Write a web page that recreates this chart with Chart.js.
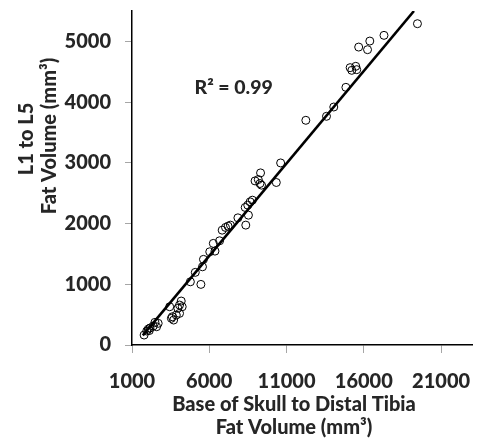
<!DOCTYPE html>
<html><head><meta charset="utf-8">
<script src="https://cdn.jsdelivr.net/npm/chart.js@4/dist/chart.umd.min.js"></script>
<style>html,body{margin:0;padding:0;background:#fff;}</style>
</head><body>
<canvas id="c" width="477" height="442"></canvas>
<script>
// ---- data ----
const xValues = [1783,1955,2057,2121,2166,2376,2484,2592,2694,3439,3548,3611,3694,3866,4076,3968,4076,4185,4248,4777,5458,5095,5560,5624,6031,6261,6369,6668,6834,7050,7216,7369,7853,8363,8534,8324,8490,8643,8789,8961,9171,9280,9382,9318,10337,10617,
  12248,13585,14056,14840,15114,15222,15477,15541,15668,16241,16387,17305,19470];
const yValues = [164,230,263,238,280,312,373,301,357,630,439,465,411,493,521,604,658,724,630,1041,998,1196,1288,1410,1535,1673,1546,1716,1891,1936,1957,1974,2094,1974,2138,2265,2303,2357,2385,2702,2725,2659,2632,2834,2676,2998,
  3700,3766,3919,4243,4567,4523,4589,4534,4906,4863,5005,5099,5291];
const trendX = [1700, 19245];
const trendY = [158, 5500];
const xTicks = [1000, 6000, 11000, 16000, 21000];
const yTicks = [0, 1000, 2000, 3000, 4000, 5000];
const xRange = [1000, 23000];
const yRange = [0, 5500];
const xTitle = ['Base of Skull to Distal Tibia', 'Fat Volume (mm³)'];
const yTitle = ['L1 to L5', 'Fat Volume (mm³)'];
const r2Label = 'R² = 0.99';
const r2Pos = [7580, 4230];

const FONT = 'Lato';
const WEIGHT = '900';
const TXT = '#262626';

const scatterData = xValues.map((x, i) => ({x, y: yValues[i]}));
const trendData = trendX.map((x, i) => ({x, y: trendY[i]}));

const textPlugin = {
  id: 'texts',
  afterDraw(chart) {
    const ctx = chart.ctx;
    const xs = chart.scales.x, ys = chart.scales.y;
    ctx.save();
    ctx.fillStyle = TXT;
    ctx.textAlign = 'center';
    ctx.textBaseline = 'middle';
    ctx.font = WEIGHT + ' 19.5px ' + FONT;
    ctx.fillText(r2Label, xs.getPixelForValue(r2Pos[0]), ys.getPixelForValue(r2Pos[1]));
    ctx.font = WEIGHT + ' 20px ' + FONT;
    ctx.fillText(xTitle[0], 294, 405);
    ctx.fillText(xTitle[1], 294, 428);
    ctx.save();
    ctx.translate(27, 139);
    ctx.rotate(-Math.PI / 2);
    ctx.fillText(yTitle[0], 0, 0);
    ctx.restore();
    ctx.save();
    ctx.translate(50, 136);
    ctx.rotate(-Math.PI / 2);
    ctx.fillText(yTitle[1], 0, 0);
    ctx.restore();
    ctx.restore();
  }
};

function zeroPad(s) { s.paddingTop = 0; s.paddingBottom = 0; s.paddingLeft = 0; s.paddingRight = 0; }

function build() {
  new Chart(document.getElementById('c'), {
    type: 'scatter',
    data: {
      datasets: [
        { type: 'line', data: trendData, borderColor: '#000', borderWidth: 2.6, pointRadius: 0, fill: false, order: 0 },
        { data: scatterData, pointRadius: 4, pointBorderWidth: 1, pointBorderColor: '#000', pointBackgroundColor: 'rgba(0,0,0,0)', order: 1 }
      ]
    },
    options: {
      responsive: false,
      animation: false,
      devicePixelRatio: 1,
      layout: { padding: { top: 11, right: 0, left: 0, bottom: 0 } },
      plugins: { legend: { display: false }, tooltip: { enabled: false } },
      scales: {
        x: {
          type: 'linear', min: xRange[0], max: xRange[1],
          afterBuildTicks: s => { s.ticks = xTicks.map(v => ({value: v})); },
          afterFit: s => { s.height = 97; zeroPad(s); },
          grid: { drawOnChartArea: false, color: '#a6a6a6', tickLength: 8, lineWidth: 1 },
          border: { color: '#000', width: 1.5 },
          ticks: { color: TXT, font: { family: FONT, size: 20, weight: WEIGHT }, padding: 17, maxRotation: 0, callback: v => String(v) }
        },
        y: {
          type: 'linear', min: yRange[0], max: yRange[1],
          afterBuildTicks: s => { s.ticks = yTicks.map(v => ({value: v})); },
          afterFit: s => { s.width = 132; zeroPad(s); },
          grid: { drawOnChartArea: false, color: '#a6a6a6', tickLength: 7, lineWidth: 1 },
          border: { color: '#000', width: 1.5 },
          ticks: { color: TXT, font: { family: FONT, size: 20, weight: WEIGHT }, padding: 14, callback: v => String(v) }
        }
      }
    },
    plugins: [textPlugin]
  });
}
if (document.fonts && document.fonts.load) {
  Promise.all([document.fonts.load(WEIGHT + ' 20px Lato'), document.fonts.load(WEIGHT + ' 19.5px Lato')]).then(build, build);
} else { build(); }
</script>
</body></html>
